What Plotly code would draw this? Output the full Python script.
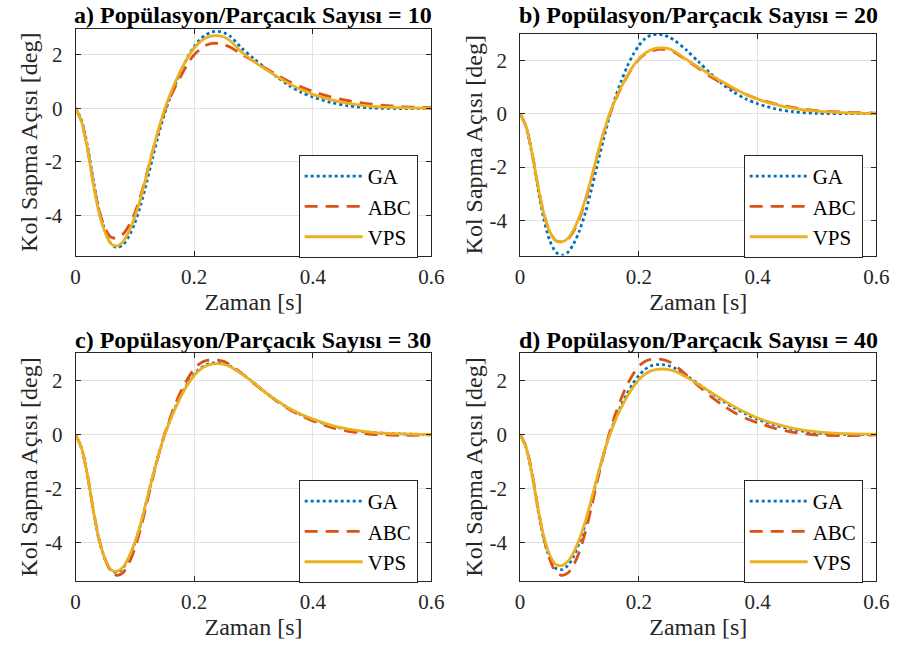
import plotly.graph_objects as go

# time samples [s]
T = [0, .01, .02, .03, .04, .05, .06, .07, .08, .09, .10, .11, .12, .13, .14, .15, .16, .17, .18, .19,
     .20, .21, .22, .23, .24, .25, .26, .28, .30, .32, .34, .36, .38, .40, .43, .46, .50, .55, .60]

# a) population / particle count = 10
GA_a = [0, -0.45, -1.4, -2.7, -3.85, -4.6, -5.07, -5.2, -5.1, -4.78, -4.28, -3.6, -2.75, -1.85, -0.98,
        -0.2, 0.45, 1.0, 1.5, 1.95, 2.3, 2.57, 2.75, 2.85, 2.87, 2.82, 2.7, 2.25, 1.86, 1.5, 1.16, 0.85,
        0.6, 0.42, 0.22, 0.09, 0.01, -0.01, 0.0]
ABC_a = [0, -0.5, -1.5, -2.8, -3.85, -4.5, -4.82, -4.85, -4.7, -4.38, -3.9, -3.25, -2.45, -1.6, -0.82,
         -0.12, 0.42, 0.88, 1.3, 1.7, 2.0, 2.2, 2.35, 2.42, 2.42, 2.37, 2.29, 2.02, 1.76, 1.5, 1.24, 1.0,
         0.8, 0.63, 0.43, 0.28, 0.15, 0.06, 0.02]
VPS_a = [0, -0.5, -1.5, -2.85, -3.95, -4.65, -5.07, -5.14, -4.98, -4.6, -4.05, -3.35, -2.48, -1.6, -0.78,
         -0.05, 0.55, 1.07, 1.53, 1.93, 2.25, 2.48, 2.63, 2.7, 2.71, 2.66, 2.53, 2.1, 1.76, 1.46, 1.18, 0.92,
         0.7, 0.52, 0.32, 0.18, 0.07, 0.02, 0.0]

# b) = 20
GA_b = [0, -0.5, -1.5, -2.8, -3.95, -4.75, -5.18, -5.3, -5.2, -4.88, -4.38, -3.7, -2.85, -1.92, -1.0,
        -0.15, 0.58, 1.2, 1.75, 2.2, 2.55, 2.8, 2.93, 2.97, 2.95, 2.87, 2.74, 2.38, 1.95, 1.52, 1.12, 0.8,
        0.55, 0.37, 0.18, 0.07, 0.01, 0.0, 0.0]
ABC_b = [0, -0.48, -1.45, -2.7, -3.75, -4.42, -4.75, -4.8, -4.7, -4.4, -3.92, -3.25, -2.45, -1.58, -0.77,
         -0.07, 0.48, 0.96, 1.38, 1.75, 2.03, 2.22, 2.34, 2.4, 2.41, 2.38, 2.3, 2.0, 1.7, 1.4, 1.14, 0.92,
         0.72, 0.55, 0.36, 0.22, 0.11, 0.05, 0.02]
VPS_b = [0, -0.48, -1.45, -2.7, -3.75, -4.42, -4.75, -4.8, -4.68, -4.35, -3.85, -3.2, -2.4, -1.55, -0.75,
         -0.05, 0.5, 0.98, 1.4, 1.77, 2.05, 2.25, 2.38, 2.45, 2.46, 2.43, 2.33, 2.03, 1.74, 1.46, 1.2, 0.95,
         0.72, 0.54, 0.34, 0.2, 0.09, 0.03, 0.01]

# c) = 30
GA_c = [0, -0.5, -1.5, -2.82, -3.93, -4.62, -5.02, -5.08, -4.93, -4.55, -4.0, -3.3, -2.43, -1.55, -0.74,
        -0.02, 0.57, 1.09, 1.54, 1.92, 2.22, 2.44, 2.57, 2.64, 2.65, 2.62, 2.53, 2.25, 1.92, 1.56, 1.24, 0.96,
        0.73, 0.55, 0.33, 0.18, 0.07, 0.02, 0.0]
ABC_c = [0, -0.5, -1.5, -2.8, -3.9, -4.62, -5.07, -5.2, -5.1, -4.75, -4.2, -3.45, -2.55, -1.62, -0.75,
         0.0, 0.65, 1.22, 1.7, 2.1, 2.42, 2.63, 2.73, 2.76, 2.75, 2.7, 2.58, 2.26, 1.9, 1.55, 1.22, 0.93,
         0.7, 0.5, 0.27, 0.12, 0.01, -0.03, -0.01]
VPS_c = [0, -0.5, -1.5, -2.82, -3.92, -4.6, -5.0, -5.05, -4.9, -4.52, -3.98, -3.28, -2.42, -1.55, -0.75,
         -0.03, 0.55, 1.06, 1.5, 1.88, 2.18, 2.4, 2.53, 2.6, 2.62, 2.59, 2.51, 2.24, 1.92, 1.56, 1.24, 0.97,
         0.75, 0.57, 0.35, 0.2, 0.08, 0.02, 0.0]

# d) = 40
GA_d = [0, -0.49, -1.48, -2.78, -3.87, -4.57, -4.94, -4.99, -4.85, -4.5, -3.98, -3.3, -2.47, -1.6, -0.78,
        -0.05, 0.55, 1.06, 1.5, 1.88, 2.18, 2.4, 2.53, 2.58, 2.58, 2.54, 2.46, 2.18, 1.87, 1.56, 1.26, 0.99,
        0.76, 0.56, 0.34, 0.18, 0.06, 0.0, 0.0]
ABC_d = [0, -0.45, -1.4, -2.7, -3.82, -4.6, -5.08, -5.2, -5.12, -4.82, -4.32, -3.6, -2.7, -1.72, -0.8,
         0.02, 0.72, 1.32, 1.82, 2.22, 2.52, 2.7, 2.78, 2.79, 2.77, 2.7, 2.57, 2.2, 1.8, 1.43, 1.1, 0.82,
         0.6, 0.43, 0.22, 0.08, -0.02, -0.04, -0.01]
VPS_d = [0, -0.48, -1.45, -2.72, -3.78, -4.45, -4.8, -4.84, -4.7, -4.36, -3.85, -3.2, -2.4, -1.56, -0.77,
         -0.07, 0.5, 0.98, 1.39, 1.74, 2.02, 2.22, 2.35, 2.41, 2.42, 2.4, 2.34, 2.12, 1.86, 1.58, 1.3, 1.04,
         0.81, 0.61, 0.39, 0.23, 0.1, 0.03, 0.01]

TITLES = ["a) Popülasyon/Parçacık Sayısı = 10", "b) Popülasyon/Parçacık Sayısı = 20",
          "c) Popülasyon/Parçacık Sayısı = 30", "d) Popülasyon/Parçacık Sayısı = 40"]
SERIES_NAMES = ["GA", "ABC", "VPS"]
PANELS = [(GA_a, ABC_a, VPS_a), (GA_b, ABC_b, VPS_b), (GA_c, ABC_c, VPS_c), (GA_d, ABC_d, VPS_d)]
X_TICKS = [0, 0.2, 0.4, 0.6]
X_TICKTEXT = ["0", "0.2", "0.4", "0.6"]
Y_TICKS = [-4, -2, 0, 2]
Y_TICKTEXT = ["-4", "-2", "0", "2"]
X_LABEL = "Zaman [s]"
Y_LABEL = "Kol Sapma Açısı [deg]"

W, H = 910, 650
FONT = "Liberation Serif"
AX = "#262626"
STYLES = [dict(color="#0072BD", dash="3px,3px", width=2.8),
          dict(color="#D95319", dash="13px,8px", width=2.8),
          dict(color="#EDB120", dash="solid", width=2.8)]

# panel geometry in pixels: (left, right, top, bottom) and y-range
GEOM = [(72, 435, 29, 255.5), (525.5, 889, 34, 255.5), (72, 435, 353.3, 580.7), (525.5, 889, 353.3, 580.7)]
YRANGES = [[-5.5, 2.96], [-5.31, 2.98], [-5.4, 3.0], [-5.4, 3.0]]
TITLE_Y = [15, 15, 340, 340]
LEG_POS = [(421, 155), (875, 155), (421, 480), (875, 480)]

fig = go.Figure()
layout = dict(width=W, height=H, margin=dict(l=0, r=0, t=0, b=0), plot_bgcolor="white",
              paper_bgcolor="white", font=dict(family=FONT, color=AX), annotations=[])

for i, (series, title) in enumerate(zip(PANELS, TITLES)):
    k = "" if i == 0 else str(i + 1)
    leg = "legend" + k
    for name, ys, st in zip(SERIES_NAMES, series, STYLES):
        fig.add_trace(go.Scatter(x=T, y=ys, name=name, mode="lines", line=dict(shape="spline", smoothing=0.8, **st),
                                 xaxis="x" + k, yaxis="y" + k, legend=leg, hoverinfo="skip"))
    l, r, t, b = GEOM[i]
    common = dict(showline=True, linecolor=AX, linewidth=1, mirror="ticks", ticks="inside", ticklen=5,
                  tickcolor=AX, showgrid=True, gridcolor="#E2E2E2", gridwidth=1, zeroline=False,
                  tickfont=dict(family=FONT, size=21, color=AX))
    layout["xaxis" + k] = dict(domain=[l / W, r / W], range=[0, 0.6], tickvals=X_TICKS, ticktext=X_TICKTEXT,
                               anchor="y" + k, ticklabelstandoff=2,
                               title=dict(text=X_LABEL, font=dict(family=FONT, size=24, color=AX), standoff=0),
                               **common)
    layout["yaxis" + k] = dict(domain=[1 - b / H, 1 - t / H], range=YRANGES[i], tickvals=Y_TICKS,
                               ticktext=Y_TICKTEXT, anchor="x" + k, ticklabelstandoff=8,
                               title=dict(text=Y_LABEL, font=dict(family=FONT, size=24, color=AX), standoff=0),
                               **common)
    lx, ly = LEG_POS[i]
    layout[leg] = dict(x=lx / W, y=1 - ly / H, xanchor="right", yanchor="top", bgcolor="white",
                       bordercolor=AX, borderwidth=1, font=dict(family=FONT, size=21, color="black"),
                       itemwidth=58, tracegroupgap=0)
    layout["annotations"].append(dict(text="<b>" + title + "</b>", x=(l + r) / 2 / W, y=1 - TITLE_Y[i] / H,
                                      xref="paper", yref="paper", xanchor="center", yanchor="middle",
                                      showarrow=False, font=dict(family=FONT, size=24, color="black")))

fig.update_layout(**layout)
fig.write_html("out.html")
